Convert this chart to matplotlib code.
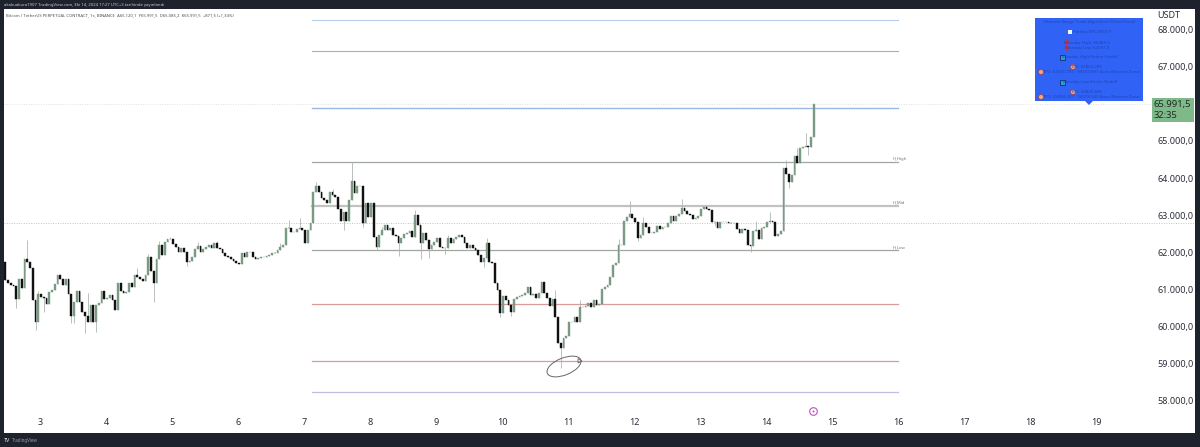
import matplotlib
matplotlib.use('Agg')
import matplotlib.pyplot as plt
import numpy as np
from matplotlib.patches import Rectangle, Ellipse, Polygon, Circle
from matplotlib.transforms import Affine2D

# hourly closes
closes = [
    61257, 61167, 61123, 61096, 60746, 61284, 61033, 61813, 61750, 61571,
    60719, 60118, 60872, 60791, 60764, 60602, 60925, 60988, 61141, 61401,
    61284, 61123, 61275, 60872, 60297, 60656, 60970, 60674, 60405, 60297,
    60118, 60584, 60118, 60584, 60629, 60970, 60737, 60764, 60853, 60719,
    60450, 61167, 60970, 60898, 60943, 61167, 61060, 61392, 61329, 61275,
    61230, 61392, 61867, 61508, 61185, 61813, 62199, 61930, 62289, 62352,
    62352, 62226, 62154, 62020, 62110, 62020, 61750, 61777, 61885, 62082,
    62172, 62020, 62091, 62154, 62199, 62127, 62244, 62110, 62091, 61975,
    61903, 61867, 61813, 61768, 61706, 61679, 61975, 61885, 62020, 62020,
    61885, 61813, 61840, 61867, 61885, 61903, 61930, 61993, 61975, 62065,
    62154, 62199, 62665, 62647, 62540, 62540, 62620, 62647, 62603, 62244,
    62603, 62783, 63635, 63787, 63635, 63455, 63410, 63321, 63635, 63545,
    63482, 63159, 62845, 63097, 62845, 63410, 63931, 63608, 63787, 63787,
    62800, 63321, 62962, 63321, 62406, 62155, 62469, 62603, 62738, 62603,
    62648, 62469, 62442, 62262, 62379, 62496, 62514, 62576, 62406, 63007,
    62738, 62244, 62514, 62334, 62083, 62200, 62289, 62379, 62155, 62110,
    62110, 62379, 62244, 62352, 62406, 62469, 62406, 62244, 62110, 62200,
    62110, 62065, 61930, 61751, 61841, 62262, 61751, 61706, 61168, 60988,
    60360, 60836, 60719, 60585, 60387, 60737, 60809, 60836, 60854, 60899,
    61078, 60854, 60881, 60764, 60899, 61213, 60899, 60764, 60558, 60737,
    60253, 59553, 59437, 59688, 59750, 60136, 60136, 60253, 60136, 60522,
    60522, 60558, 60630, 60540, 60719, 60585, 60612, 61015, 61078, 61123,
    61347, 61661, 61706, 62200, 62200, 62846, 62963, 63026, 62936, 62828,
    62398, 62470, 62783, 62694, 62514, 62514, 62559, 62712, 62622, 62694,
    62694, 62783, 62981, 62846, 62990, 63026, 63187, 63115, 63026, 63008,
    62900, 62936, 62990, 63169, 63232, 63169, 63142, 62828, 62810, 62667,
    62810, 62810, 62828, 62801, 62783, 62783, 62631, 62514, 62631, 62604,
    62200, 62183, 62577, 62604, 62362, 62667, 62694, 62828, 62846, 62828,
    62452, 62488, 62577, 64264, 64102, 63887, 64084, 64595, 64398, 64802,
    64847, 64874, 64847, 65116, 65991.5,
]
first_open = 61750

# wicks that stand out, candle number -> price
wick_highs = {
    8: 62334, 30: 60898, 48: 61571, 52: 61950, 60: 62405, 103: 62872, 107: 62917,
    113: 63904, 126: 64442, 149: 63141, 175: 62379, 200: 60988, 209: 60719,
    227: 63384, 246: 63438, 278: 63080, 273: 62850, 284: 64488, 288: 64820, 291: 65205,
    12: 60950, 42: 61100, 56: 62300, 70: 62280, 77: 62300, 100: 62250, 119: 63700,
    137: 62680, 161: 62470, 223: 62350, 232: 62950,
}
wick_lows = {
    4: 60495, 11: 59912, 14: 60405, 24: 60090, 25: 60090, 29: 59822, 33: 59867,
    54: 60674, 66: 61643, 123: 62603, 130: 62693, 135: 62065, 143: 61903,
    151: 61814, 154: 61841, 160: 61957, 174: 61599, 180: 60253, 202: 58880,
    184: 60280, 271: 62021, 285: 63743, 292: 64622, 230: 62300, 258: 62700,
}

# horizontal levels
level_prices = [68255, 67422, 65887, 64433, 63249, 62064, 60610, 59076, 58242]
level_colors = ['#b4cdea', '#8cc58c', '#9ab8e6', '#a3a7a4', '#c2c2c2', '#a3a7a4',
                '#d99a9a', '#d99a9a', '#c3bee0']
level_widths = [0.8, 0.8, 1.0, 0.9, 1.6, 0.9, 0.9, 0.9, 0.9]
level_names = {3: 'H_High', 4: 'H_Mid', 5: 'H_Low'}

day_ticks = [3, 4, 5, 6, 7, 8, 9, 10, 11, 12, 13, 14, 15, 16, 17, 18, 19]
bold_days = [7, 14]
price_ticks = [58000, 59000, 60000, 61000, 62000, 63000, 64000, 65000, 67000, 68000]
price_labels = ['58.000,0', '59.000,0', '60.000,0', '61.000,0', '62.000,0',
                '63.000,0', '64.000,0', '65.000,0', '67.000,0', '68.000,0']
last_price = 65991.5
prev_close_line = 62800

header = 'akakuakura1907 TradingView.com, Eki 14, 2024 17:27 UTC+3 tarihinde yayınlandı'
title = ('Bitcoin / TetherUS PERPETUAL CONTRACT, 1s, BINANCE  A65.120,1  Y65.991,5  '
         'D65.085,2  K65.991,5  +871,5 (+1,34%)')

tip_lines = [
    ('Ultimate Range Trade Algorithm (Client Hook)', 1089, 22),
    ('Pardas: BTCUSDT.P', 1092, 32),
    ('Monday High: 66488.3', 1087, 43),
    ('Monday Low: 62097.8', 1087, 48),
    ('Monday High Kırılım Hedefi', 1090, 57),
    ('TP1: 65862.285', 1086, 67),
    ('TP2: 67445.787 - 68100.897 Arası (Reverse Zone)', 1092, 72),
    ('Monday Low Kırılım Hedefi', 1090, 82),
    ('TP1: 60825.845', 1086, 92),
    ('TP2: 59084.297 - 58278.549 Arası (Reverse Zone)', 1092, 97),
]

plt.rcParams['font.family'] = ['Noto Sans', 'DejaVu Sans']
dark = '#1e222d'
fig = plt.figure(figsize=(12, 4.47), dpi=100, facecolor=dark)
# pixel positions, y from the top of the picture
px = Affine2D().scale(1, -1).translate(0, 447)

ax = fig.add_axes([4 / 1200, (447 - 433) / 447, 1191 / 1200, 424 / 447], facecolor='white')
ax.set_xlim(3 + (4 - 40) / 66, 3 + (1195 - 40) / 66)
ax.set_ylim(68000 - (433 - 29.5) * 26.92, 68000 + (29.5 - 9) * 26.92)
for s in ax.spines.values():
    s.set_visible(False)

closes = np.array(closes, dtype=float)
opens = np.r_[first_open, closes[:-1]]
xs = 2.474 + np.arange(len(closes)) / 24
tops = np.maximum(opens, closes)
bots = np.minimum(opens, closes)
highs = tops.copy()
lows = bots.copy()
for k, v in wick_highs.items():
    highs[k] = v
for k, v in wick_lows.items():
    lows[k] = v

ax.axhline(last_price, color='#dfe2df', lw=0.7, ls=(0, (1, 1.5)), zorder=1)
ax.axhline(prev_close_line, color='#c4c4c4', lw=0.7, ls=(0, (1, 1.5)), zorder=1)

for i, p in enumerate(level_prices):
    ax.plot([7.12, 16.0], [p, p], color=level_colors[i], lw=level_widths[i], zorder=2)
    if i in level_names:
        ax.text(15.92, p + 30, level_names[i], fontsize=3.0, color='#777777', ha='left',
                va='bottom')

ax.vlines(xs, lows, highs, color='#b0b5b3', lw=0.6, zorder=3)
up = closes >= opens
ax.bar(xs[up], (tops - bots)[up], bottom=bots[up], width=0.7 / 24, color='#7a9a83',
       edgecolor='#7a9a83', lw=0.3, zorder=4)
ax.bar(xs[~up], (tops - bots)[~up], bottom=bots[~up], width=0.7 / 24, color='#111111',
       edgecolor='#111111', lw=0.3, zorder=4)

ax.set_xticks(day_ticks)
ax.set_xticklabels([str(d) for d in day_ticks], fontsize=6.5, color='#2a2e39')
for lab, d in zip(ax.get_xticklabels(), day_ticks):
    if d in bold_days:
        lab.set_fontweight('bold')
ax.tick_params(axis='x', length=0, pad=-11)
ax.yaxis.tick_right()
ax.set_yticks(price_ticks)
ax.set_yticklabels(price_labels, fontsize=6.5, color='#2a2e39')
ax.tick_params(axis='y', length=0, pad=-27)

# header bar and legend line
fig.text(4 / 1200, 1 - 5 / 447, header, fontsize=3.0, color='#c8ccd6', va='center')
fig.text(6 / 1200, 1 - 15 / 447, title, fontsize=3.0, color='#4a4e59', va='center')
fig.text(1157 / 1200, 1 - 15.5 / 447, 'USDT', fontsize=6.5, color='#2a2e39', va='center')
fig.text(12 / 1200, 1 - 440.5 / 447, 'TradingView', fontsize=3.2, color='#9a9ea8', va='center')
fig.text(4 / 1200, 1 - 440.5 / 447, 'TV', fontsize=4, color='#e8e8e8', va='center',
         fontweight='bold')

# price tag
fig.add_artist(Rectangle((1152, 98), 42, 24, transform=px, fc='#7fb98a', ec='none'))
fig.text(1154 / 1200, 1 - 104 / 447, '65.991,5', fontsize=6.8, color='#1c2b20', va='center')
fig.text(1154 / 1200, 1 - 115 / 447, '32:35', fontsize=6.8, color='#1c2b20', va='center')

# tooltip box
fig.add_artist(Rectangle((1035, 18), 108, 83, transform=px, fc='#2f62f5', ec='none'))
fig.add_artist(Polygon([(1085, 101), (1093, 101), (1089, 105)], transform=px, fc='#2f62f5',
                       ec='none'))
for txt, tx, ty in tip_lines:
    fig.text(tx / 1200, 1 - ty / 447, txt, fontsize=3.1, color='#1f44b4', ha='center',
             va='center')
fig.add_artist(Rectangle((1068, 30), 4, 4, transform=px, fc='#f4f4f4', ec='none'))
for dx, dy in [(1067, 42), (1067, 48)]:
    fig.add_artist(Polygon([(dx - 2.5, dy), (dx, dy - 3.5), (dx + 2.5, dy), (dx, dy + 3.5)],
                           transform=px, fc='#d6303a', ec='none'))
for dx, dy in [(1062, 57), (1062, 82)]:
    fig.add_artist(Rectangle((dx - 2.5, dy - 2.5), 5, 5, transform=px, fc='#26a0d8', ec='#123a80',
                             lw=0.7))
for dx, dy in [(1073, 67), (1041, 72), (1073, 92), (1041, 97)]:
    fig.add_artist(Circle((dx, dy), 2.5, transform=px, fc='#f0a58a', ec='#b03a3a', lw=0.5))

# hand drawn ellipse round the low, and the small arrow
fig.add_artist(Ellipse((564, 366.5), 36, 17, angle=-22, transform=px, fc='none', ec='#666666',
                       lw=0.7))
fig.add_artist(Polygon([(578, 358.5), (582, 361), (578, 363)], transform=px, fc='none',
                       ec='#666666', lw=0.6))

# pink event marker
fig.add_artist(Circle((813.5, 411.5), 3.8, transform=px, fc='white', ec='#c04fc8', lw=0.8))
fig.add_artist(Circle((813.5, 411.5), 1.0, transform=px, fc='#c04fc8', ec='none'))

fig.savefig('out.png', dpi=100, facecolor=dark)
